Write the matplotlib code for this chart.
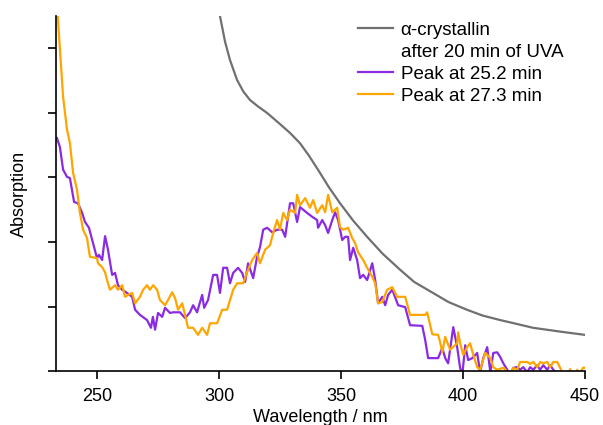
import matplotlib.pyplot as plt
from matplotlib.lines import Line2D

plt.rcParams['font.family'] = ['Liberation Sans', 'DejaVu Sans']
plt.rcParams['font.size'] = 13

# alpha-crystallin after 20 min UVA (grey)
wl_gray = [299.0, 300.4, 302.5, 304.5, 307.4, 310.0, 312.7, 316.0, 319.7, 324.0,
           329.1, 333.2, 337.0, 341.4, 345.0, 349.6, 355.0, 360.7, 367.0, 374.2,
           380.0, 387.7, 394.0, 401.6, 408.0, 415.2, 422.0, 428.7, 440.0, 450.0]
abs_gray = [5.90, 5.50, 5.10, 4.82, 4.51, 4.33, 4.20, 4.10, 4.00, 3.86,
            3.69, 3.53, 3.33, 3.07, 2.85, 2.60, 2.33, 2.08, 1.82, 1.57,
            1.38, 1.21, 1.07, 0.95, 0.86, 0.79, 0.73, 0.67, 0.61, 0.56]

# peak at 25.2 min (purple)
wl_p = [233.6, 234.8, 236.1, 237.7, 238.9, 240.6, 242.2, 243.9, 245.1, 246.7,
        248.4, 250.0, 250.8, 252.1, 253.3, 254.5, 256.2, 257.4, 258.6, 260.3,
        262.3, 264.4, 265.6, 267.6, 270.5, 272.1, 272.9, 273.8, 275.0, 276.7,
        277.9, 279.9, 281.2, 284.0, 286.1, 288.1, 289.4, 291.0, 293.1, 293.9,
        295.5, 297.6, 299.2, 300.4, 301.7, 303.3, 304.5, 305.8, 307.8, 309.5,
        310.7, 311.9, 314.0, 315.6, 316.8, 318.1, 319.7, 321.8, 323.8, 325.9,
        327.1, 329.1, 330.4, 332.0, 333.2, 336.1, 338.2, 340.2, 340.6, 342.3,
        343.5, 344.7, 346.4, 347.6, 348.8, 350.5, 351.7, 352.9, 353.7, 355.0,
        356.6, 357.8, 359.1, 360.7, 362.8, 364.0, 365.2, 366.9, 368.1, 369.3,
        371.0, 373.4, 376.3, 378.3, 383.3, 384.5, 385.7, 389.8, 391.5, 392.7,
        393.9, 396.0, 397.6, 398.8, 399.7, 400.9, 402.1, 403.8, 405.8, 407.0,
        408.3, 409.9, 411.2, 412.4, 414.0, 415.2, 416.5, 418.1, 419.3, 420.6,
        422.2, 423.4, 424.7, 426.3, 427.5, 428.8, 430.4, 431.6, 432.9, 434.5,
        435.7, 437.0, 438.6, 442.0, 446.0, 450.0]
abs_p = [3.61, 3.47, 3.12, 3.01, 2.99, 2.62, 2.60, 2.45, 2.31, 2.22,
         1.98, 1.75, 1.80, 1.72, 2.09, 1.88, 1.49, 1.52, 1.33, 1.26,
         1.21, 1.15, 0.95, 0.87, 0.79, 0.67, 0.84, 0.64, 0.90, 0.84,
         0.98, 0.90, 0.91, 0.91, 0.82, 0.91, 1.02, 0.91, 1.18, 0.98,
         1.10, 1.49, 1.49, 1.21, 1.60, 1.60, 1.36, 1.52, 1.60, 1.52,
         1.38, 1.67, 1.44, 1.77, 1.92, 2.19, 2.22, 2.15, 2.19, 2.19,
         2.08, 2.60, 2.60, 2.31, 2.54, 2.45, 2.39, 2.34, 2.22, 2.34,
         2.26, 2.14, 2.34, 2.46, 2.34, 2.03, 2.08, 2.08, 1.72, 1.91,
         1.72, 1.44, 1.49, 1.41, 1.67, 1.41, 1.05, 1.15, 1.02, 1.18,
         1.26, 1.02, 0.99, 0.71, 0.70, 0.48, 0.20, 0.20, 0.36, 0.20,
         0.12, 0.68, 0.37, 0.05, -0.06, 0.40, 0.17, 0.20, 0.28, -0.02,
         0.20, 0.37, -0.02, 0.28, 0.29, 0.22, 0.12, 0.02, -0.05, 0.05,
         0.06, 0.02, 0.06, -0.02, 0.06, 0.02, 0.09, 0.02, 0.09, 0.02,
         0.09, 0.02, -0.05, -0.10, -0.05, -0.10]

# peak at 27.3 min (orange)
wl_o = [233.2, 234.8, 236.1, 237.7, 238.9, 240.2, 241.8, 243.0, 244.3, 245.9,
        247.1, 250.0, 250.4, 252.1, 253.3, 254.1, 255.3, 257.4, 258.6, 260.3,
        261.5, 262.7, 264.4, 265.6, 267.6, 268.9, 270.5, 271.7, 273.0, 274.6,
        275.8, 277.9, 279.1, 280.8, 282.0, 283.2, 284.9, 286.1, 287.3, 289.4,
        291.4, 293.1, 295.1, 296.3, 299.2, 301.3, 303.3, 304.5, 305.8, 307.4,
        309.9, 311.5, 313.6, 315.6, 316.8, 318.9, 320.9, 322.2, 323.8, 325.0,
        326.3, 327.9, 329.1, 331.2, 332.0, 333.2, 335.3, 337.3, 338.6, 340.2,
        342.3, 343.5, 344.7, 346.4, 348.4, 349.6, 350.9, 352.9, 354.6, 355.8,
        357.0, 359.1, 360.7, 362.8, 364.0, 365.2, 366.9, 368.9, 371.0, 373.0,
        376.3, 378.3, 384.5, 385.3, 387.4, 389.8, 390.6, 391.5, 392.7, 394.7,
        397.6, 398.0, 398.8, 400.1, 401.7, 402.9, 404.2, 405.8, 407.0, 409.1,
        411.2, 412.4, 414.0, 416.5, 419.3, 420.6, 422.2, 423.4, 426.3, 427.5,
        428.8, 430.4, 431.6, 432.9, 434.5, 435.7, 437.0, 438.6, 439.8, 441.1,
        442.7, 443.9, 444.7, 446.0, 446.8, 447.6, 449.2, 450.0]
abs_o = [5.90, 4.98, 4.25, 3.74, 3.53, 3.07, 2.81, 2.45, 2.19, 2.06,
         1.77, 1.75, 1.67, 1.61, 1.53, 1.41, 1.26, 1.33, 1.26, 1.33,
         1.15, 1.18, 1.21, 1.05, 1.15, 1.26, 1.33, 1.26, 1.33, 1.26,
         1.10, 1.02, 1.10, 1.22, 1.13, 0.95, 1.05, 0.87, 0.67, 0.67,
         0.56, 0.67, 0.56, 0.74, 0.74, 0.95, 0.95, 1.10, 1.26, 1.36,
         1.36, 1.53, 1.72, 1.83, 1.67, 1.88, 1.95, 2.14, 2.34, 2.19,
         2.45, 2.34, 2.50, 2.45, 2.73, 2.57, 2.68, 2.53, 2.65, 2.45,
         2.57, 2.46, 2.73, 2.46, 2.53, 2.23, 2.19, 2.22, 2.06, 1.98,
         1.84, 1.72, 1.60, 1.46, 1.36, 1.05, 1.07, 1.26, 1.30, 1.15,
         1.15, 0.87, 0.87, 0.91, 0.57, 0.56, 0.45, 0.29, 0.53, 0.33,
         0.43, 0.60, 0.43, 0.25, 0.37, 0.43, 0.25, 0.06, 0.02, 0.28,
         0.20, 0.06, 0.02, 0.05, -0.05, 0.05, 0.02, 0.14, 0.14, 0.11,
         0.14, 0.06, 0.14, 0.12, 0.14, 0.06, 0.14, 0.14, 0.05, -0.05,
         -0.10, 0.03, -0.05, -0.05, 0.02, -0.05, 0.05, 0.05]

fig = plt.figure(figsize=(6.03, 4.25), dpi=100)
ax = fig.add_axes([0.0929, 0.127, 0.8773, 0.835])

ax.plot(wl_gray, abs_gray, color='#707070', lw=1.6)
ax.plot(wl_p, abs_p, color='#8A2BE2', lw=1.6)
ax.plot(wl_o, abs_o, color='#FFA500', lw=1.6)

ax.set_xlim(233.2, 450)
ax.set_ylim(0, 5.5)
ax.set_xticks([250, 300, 350, 400, 450])
ax.set_yticks([0, 1, 2, 3, 4, 5])
ax.set_yticklabels([])
ax.spines['top'].set_visible(False)
ax.spines['right'].set_visible(False)
ax.spines['left'].set_linewidth(1.2)
ax.spines['bottom'].set_linewidth(1.2)
ax.tick_params(direction='out', length=6, width=1.2, pad=6)
ax.set_xlabel('Wavelength / nm', labelpad=3)
ax.set_ylabel('Absorption', labelpad=8)

handles = [Line2D([], [], color='#707070', lw=1.6),
           Line2D([], [], color='none'),
           Line2D([], [], color='#8A2BE2', lw=1.6),
           Line2D([], [], color='#FFA500', lw=1.6)]
labels = ['\u03b1-crystallin', 'after 20 min of UVA', 'Peak at 25.2 min', 'Peak at 27.3 min']
ax.legend(handles, labels, loc='upper left', bbox_to_anchor=(0.571, 0.985),
          frameon=False, handlelength=1.85, handletextpad=0.42, labelspacing=0.26,
          borderpad=0, borderaxespad=0, fontsize=13.5)

fig.savefig('out.png', dpi=100)
